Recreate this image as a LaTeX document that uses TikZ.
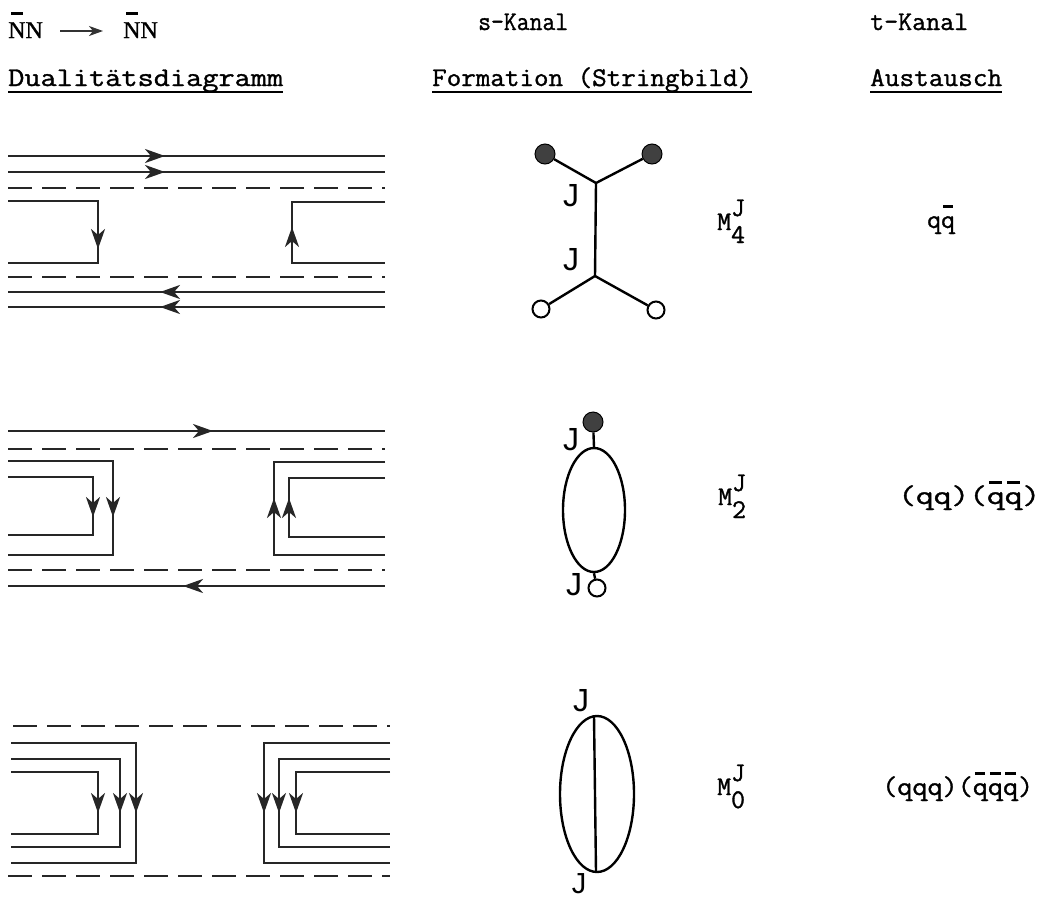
\documentclass[tikz,border=0pt]{standalone}
\usepackage{fontspec}
\usepackage{graphicx}
\newfontfamily\jfont{Liberation Sans}
\newfontfamily\nfont{Liberation Serif}[FakeBold=1]
\newfontfamily\twfont{Latin Modern Mono}[FakeBold=1.2]
\usetikzlibrary{arrows.meta,shapes.geometric}
\newcommand\tw{\fontsize{27}{32}\selectfont\twfont}
\newcommand\qb{\makebox[0pt][l]{\hspace{0.07em}\raisebox{0.74em}{\rule{0.36em}{0.13em}}}q}
\newcommand\Nb{\makebox[0pt][l]{\hspace{0.12em}\raisebox{0.95em}{\rule{0.48em}{0.13em}}}N}
\newcommand\fitw[2]{\resizebox{#1}{\height}{#2}}
\begin{document}
\begin{tikzpicture}[x=1pt,y=-1pt,
  wire/.style={line width=2.6pt, black!85},
  dline/.style={line width=2.6pt, black!85, dash pattern=on 24pt off 10pt},
  ah/.style={line width=2.6pt, black!85, -{Stealth[length=20pt,width=14pt,inset=6pt]}},
  strg/.style={line width=2.4pt, black},
  fdot/.style={circle, fill=black!75, draw=black, line width=1pt, minimum size=20pt, inner sep=0pt},
  odot/.style={circle, draw=black, line width=2pt, fill=white, minimum size=17pt, inner sep=0pt},
  txt/.style={anchor=base west, inner sep=0pt, font=\tw},
  jlab/.style={inner sep=0pt, font=\fontsize{32}{38}\selectfont\jfont},
  uline/.style={line width=2pt, black},
  hdarrow/.style={line width=1.6pt, black!80, -{Stealth[length=14pt,width=10pt,inset=4pt]}}
]
\useasboundingbox (0,0) rectangle (1059,900);

% ---------- headers ----------
\node[anchor=base west, inner sep=0pt, font=\fontsize{24}{28}\selectfont\nfont] (nn1) at (8,38) {\Nb N};
\node[anchor=base west, inner sep=0pt, font=\fontsize{24}{28}\selectfont\nfont] (nn2) at (123,38) {\Nb N};
\coordinate (a1) at (60,31);
\coordinate (a2) at (103,31);
\draw[hdarrow] (a1) -- (a2);

\node[txt] (sk) at (478,30) {\fitw{90pt}{s-Kanal}};
\node[txt] (tk) at (870,30) {\fitw{98pt}{t-Kanal}};
\node[txt] (dd) at (8,86) {\fitw{275pt}{Dualitätsdiagramm}};
\node[txt] (fs) at (432,86) {\fitw{320pt}{Formation (Stringbild)}};
\node[txt] (au) at (870,86) {\fitw{132pt}{Austausch}};
\draw[uline] (8,92) -- (283,92);
\draw[uline] (432,92) -- (752,92);
\draw[uline] (870,92) -- (1002,92);

% ---------- duality diagram 1 ----------
\draw[wire] (8,156) -- (385,156);
\draw[wire] (8,172) -- (385,172);
\draw[dline] (8,188) -- (385,188);
\draw[wire] (8,201) -| (98,263) -- (8,263);
\draw[wire] (385,202) -| (292,263) -- (385,263);
\draw[dline] (8,277) -- (385,277);
\draw[wire] (8,292) -- (385,292);
\draw[wire] (8,307) -- (385,307);
\draw[ah] (145,156) -- (165,156);
\draw[ah] (145,172) -- (165,172);
\draw[ah] (98,229) -- (98,249);
\draw[ah] (292,247) -- (292,227);
\draw[ah] (180,292) -- (160,292);
\draw[ah] (180,307) -- (160,307);

% ---------- duality diagram 2 ----------
\draw[wire] (8,431) -- (385,431);
\draw[dline] (8,449) -- (385,449);
\draw[wire] (8,461) -| (113,555) -- (8,555);
\draw[wire] (8,477) -| (93,535) -- (8,535);
\draw[wire] (385,462) -| (274,555) -- (385,555);
\draw[wire] (385,478) -| (289,537) -- (385,537);
\draw[dline] (8,570) -- (385,570);
\draw[wire] (8,586) -- (385,586);
\draw[ah] (193,431) -- (213,431);
\draw[ah] (93,497) -- (93,517);
\draw[ah] (113,497) -- (113,517);
\draw[ah] (274,518) -- (274,498);
\draw[ah] (289,518) -- (289,498);
\draw[ah] (203,586) -- (183,586);

% ---------- duality diagram 3 ----------
\draw[dline] (13,726) -- (390,726);
\draw[wire] (11,743) -| (136,863) -- (11,863);
\draw[wire] (11,759) -| (120,847) -- (11,847);
\draw[wire] (11,772) -| (98,834) -- (11,834);
\draw[wire] (390,743) -| (264,863) -- (390,863);
\draw[wire] (390,759) -| (279,847) -- (390,847);
\draw[wire] (390,772) -| (296,834) -- (390,834);
\draw[dline] (8,876) -- (390,876);
\foreach \x in {98,120,136,264,279,296} \draw[ah] (\x,793) -- (\x,813);

% ---------- string picture 1 ----------
\node[fdot] (t1) at (545,154) {};
\node[fdot] (t2) at (652,154) {};
\coordinate (j1) at (596,183);
\coordinate (j2) at (595,276);
\node[odot] (b1) at (541,309) {};
\node[odot] (b2) at (656,310) {};
\draw[strg] (t1) -- (j1) -- (t2);
\draw[strg] (j1) -- (j2);
\draw[strg] (b1) -- (j2) -- (b2);
\node[jlab] (jA) at (571,196) {J};
\node[jlab] (jB) at (571,260) {J};

% ---------- string picture 2 ----------
\node[fdot] (t3) at (593,422) {};
\node[ellipse, draw, line width=2.4pt, minimum width=62pt, minimum height=124pt, inner sep=0pt] (e2) at (594,510) {};
\node[odot] (b3) at (597,588) {};
\draw[strg] (t3) -- (e2.north);
\draw[strg] (e2.south) -- (b3);
\node[jlab] (jC) at (571,440) {J};
\node[jlab] (jD) at (574,585) {J};

% ---------- string picture 3 ----------
\node[ellipse, draw, line width=2.4pt, minimum width=74pt, minimum height=156pt, inner sep=0pt] (e3) at (597,794) {};
\coordinate (v1) at (594,716);
\coordinate (v2) at (596,872);
\draw[strg] (v1) -- (v2);
\node[jlab] (jE) at (581,701) {J};
\node[jlab, font=\fontsize{29}{34}\selectfont\jfont] (jF) at (579,884) {J};

% ---------- labels ----------
\node[txt] (m4) at (717,230) {M\rlap{\raisebox{14pt}{J}}\raisebox{-13pt}{4}};
\node[txt] (x4) at (927,228) {q\qb};
\node[txt] (m2) at (718,505) {M\rlap{\raisebox{14pt}{J}}\raisebox{-13pt}{2}};
\node[txt] (x2) at (898,504) {\fitw{142pt}{(qq)(\qb\qb)}};
\node[txt] (m0) at (717,795) {M\rlap{\raisebox{14pt}{J}}\raisebox{-13pt}{0}};
\node[txt] (x0) at (882,795) {\fitw{151pt}{(qqq)(\qb\qb\qb)}};
\end{tikzpicture}
\end{document}
